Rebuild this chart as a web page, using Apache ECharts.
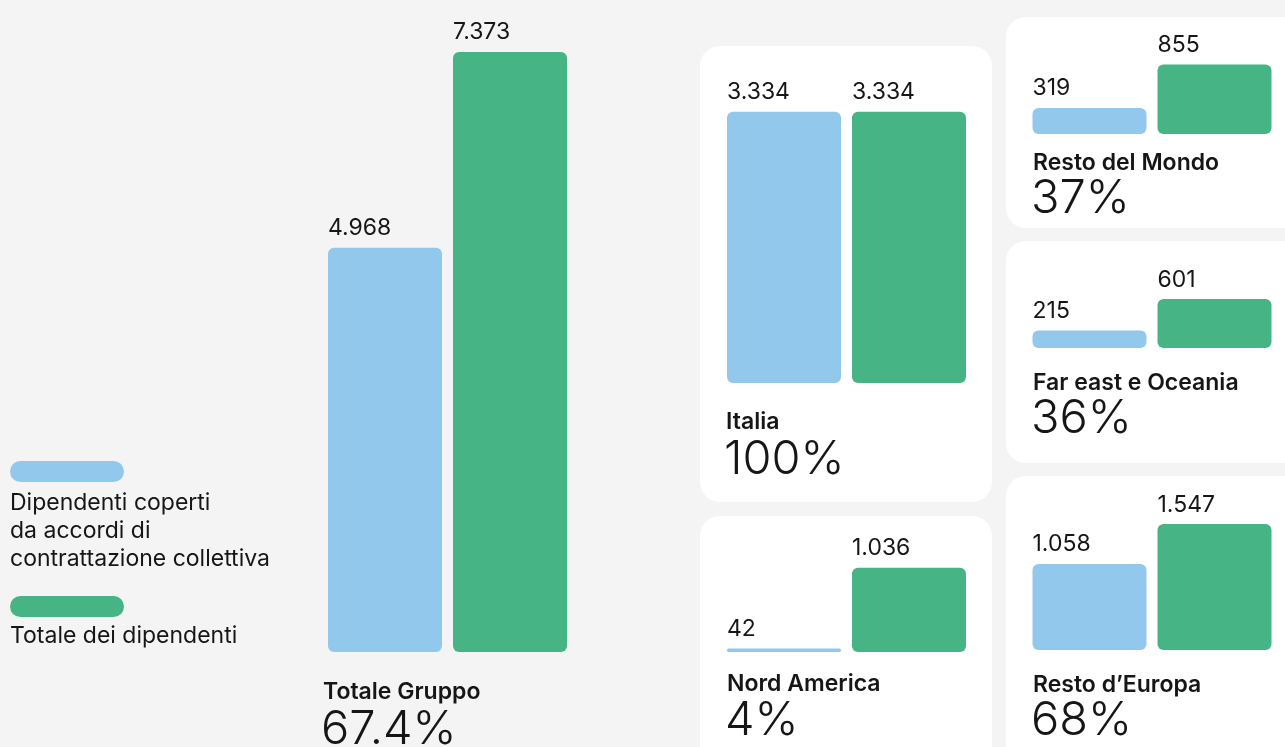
<!DOCTYPE html>
<html>
<head>
<meta charset="utf-8">
<script src="https://cdn.jsdelivr.net/npm/echarts@6/dist/echarts.min.js"></script>
<style>
  html, body { margin: 0; padding: 0; background: #f4f4f4; }
  #chart { width: 1285px; height: 747px; }
</style>
</head>
<body>
<div id="chart"></div>
<script>
// dati
var regioni = ['Totale Gruppo', 'Italia', 'Nord America', 'Resto del Mondo', 'Far east e Oceania', 'Resto d\u2019Europa'];
var coperti = [4968, 3334, 42, 319, 215, 1058];
var totale = [7373, 3334, 1036, 855, 601, 1547];
var percentuali = ['67.4%', '100%', '4%', '37%', '36%', '68%'];
var legendaCoperti = ['Dipendenti coperti', 'da accordi di', 'contrattazione collettiva'];
var legendaTotale = ['Totale dei dipendenti'];

var BLU = '#91c8ec';
var VERDE = '#47b486';
var TESTO = '#161616';
var FONT = 'Inter, "Noto Sans", sans-serif';

// stessa scala per tutti i pannelli (px per dipendente)
var SCALA = 600 / 7373;

// layout: griglia (left, bottom, height), pannello bianco, titolo
var layout = [
  { left: 322.5, bottom: 652, height: 600, panel: null, tx: 323, ty: 692, py: 729.5 },
  { left: 721.5, bottom: 383, height: 300, panel: [700, 46, 292, 456], tx: 726, ty: 422.5, py: 459.5 },
  { left: 721.5, bottom: 652, height: 120, panel: [700, 516, 292, 280], tx: 727, ty: 684.5, py: 721 },
  { left: 1027, bottom: 134, height: 100, panel: [1006, 17, 320, 211], tx: 1033, ty: 163, py: 198.5 },
  { left: 1027, bottom: 348, height: 80, panel: [1006, 241, 320, 222], tx: 1033, ty: 383, py: 419 },
  { left: 1027, bottom: 650, height: 150, panel: [1006, 476, 320, 300], tx: 1033, ty: 685, py: 721 }
];

function formatNum(v) {
  return String(v).replace(/(\d)(?=(?:\d{3})+$)/g, '$1.');
}

var grid = [], xAxis = [], yAxis = [], series = [], graphic = [];

layout.forEach(function (l, i) {
  grid.push({ left: l.left, top: l.bottom - l.height, width: 250, height: l.height });
  xAxis.push({ type: 'category', gridIndex: i, data: ['coperti', 'totale'], show: false });
  yAxis.push({ type: 'value', gridIndex: i, min: 0, max: l.height / SCALA, show: false });
  series.push({
    type: 'bar',
    xAxisIndex: i,
    yAxisIndex: i,
    barWidth: 114,
    silent: true,
    data: [
      { value: coperti[i], itemStyle: { color: BLU } },
      { value: totale[i], itemStyle: { color: VERDE } }
    ],
    itemStyle: { borderRadius: 6 },
    label: {
      show: true,
      position: [0, -8],
      align: 'left',
      verticalAlign: 'bottom',
      fontFamily: FONT,
      fontSize: 23,
      color: TESTO,
      formatter: function (p) { return formatNum(p.value); }
    }
  });

  if (l.panel) {
    graphic.push({
      type: 'rect', z: -10,
      shape: { x: l.panel[0], y: l.panel[1], width: l.panel[2], height: l.panel[3], r: 20 },
      style: { fill: '#ffffff' }
    });
  }
  graphic.push({
    type: 'text', x: l.tx, y: l.ty,
    style: { text: regioni[i], fill: TESTO, font: '600 23px ' + FONT, verticalAlign: 'middle' }
  });
  graphic.push({
    type: 'text', x: l.tx - 2, y: l.py,
    style: { text: percentuali[i], fill: TESTO, font: '300 47px ' + FONT, verticalAlign: 'middle' }
  });
});

// legenda
graphic.push({
  type: 'rect', shape: { x: 10, y: 461, width: 114, height: 21, r: 10.5 }, style: { fill: BLU }
});
legendaCoperti.forEach(function (t, k) {
  graphic.push({
    type: 'text', x: 10, y: 503.5 + k * 28,
    style: { text: t, fill: TESTO, font: '23px ' + FONT, verticalAlign: 'middle' }
  });
});
graphic.push({
  type: 'rect', shape: { x: 10, y: 596, width: 114, height: 21, r: 10.5 }, style: { fill: VERDE }
});
legendaTotale.forEach(function (t, k) {
  graphic.push({
    type: 'text', x: 10, y: 636.5 + k * 28,
    style: { text: t, fill: TESTO, font: '23px ' + FONT, verticalAlign: 'middle' }
  });
});

var myChart = echarts.init(document.getElementById('chart'));
myChart.setOption({
  backgroundColor: '#f4f4f4',
  animation: false,
  grid: grid,
  xAxis: xAxis,
  yAxis: yAxis,
  series: series,
  graphic: graphic
});
</script>
</body>
</html>
